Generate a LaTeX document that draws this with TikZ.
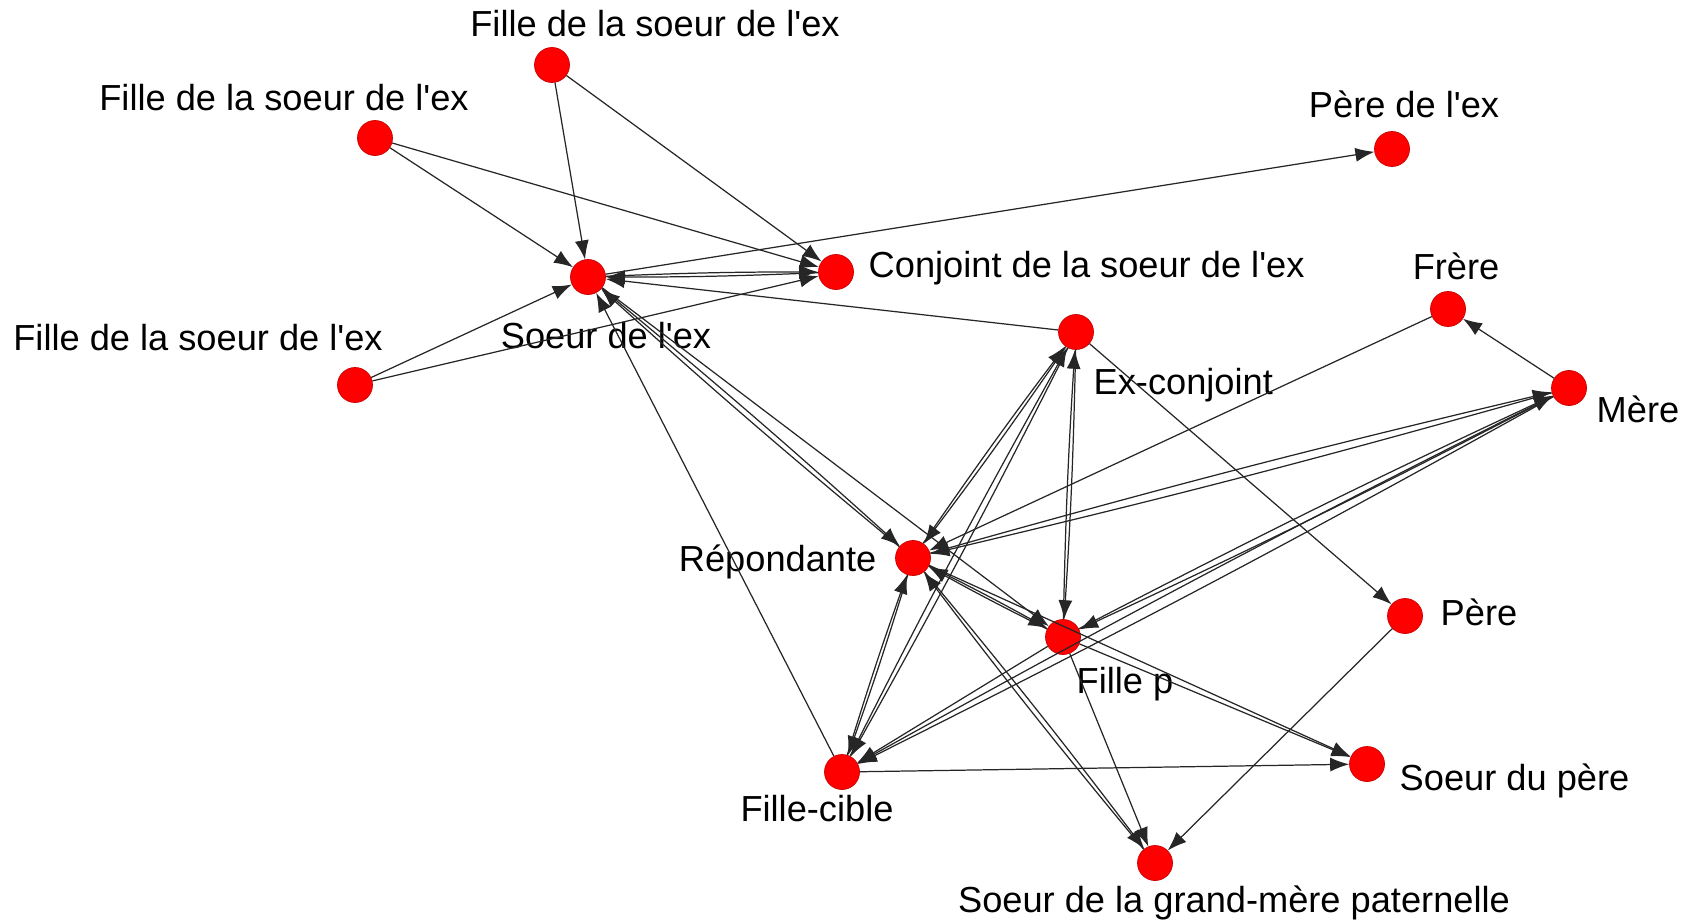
\documentclass[tikz,border=0pt]{standalone}
\usepackage{fontspec}
\setmainfont{Liberation Sans}[Ligatures=TeXOff]
\usetikzlibrary{arrows.meta}

\begin{document}
\begin{tikzpicture}[
    x=0.01cm, y=-0.01cm,
    nodePers/.style={circle, minimum size=0.35cm, inner sep=0pt, fill=red, draw=red!80!black, line width=0.2pt},
    labelTxt/.style={inner sep=0pt, font=\fontsize{10.3}{12}\selectfont, text height=1.45ex, text depth=.3ex},
    linkArrow/.style={-{Latex[length=5.4pt,width=4pt]}, line width=0.35pt, draw=black!85},
    linkPair/.style={linkArrow, bend left=1.2},
  ]
  \useasboundingbox (0,0) rectangle (1692,921);

  % persons
  \node[nodePers] (filleA) at (552, 65) {};
  \node[nodePers] (filleB) at (375, 138) {};
  \node[nodePers] (filleC) at (355, 385) {};
  \node[nodePers] (soeurEx) at (588, 277) {};
  \node[nodePers] (conjSoeur) at (836, 272) {};
  \node[nodePers] (pereEx) at (1392, 149) {};
  \node[nodePers] (frere) at (1448, 309) {};
  \node[nodePers] (exConj) at (1076, 332) {};
  \node[nodePers] (mere) at (1569, 388) {};
  \node[nodePers] (repond) at (913, 558) {};
  \node[nodePers] (pere) at (1405, 616) {};
  \node[nodePers] (filleP) at (1063, 637) {};
  \node[nodePers] (soeurPere) at (1367, 764) {};
  \node[nodePers] (filleCible) at (842, 772) {};
  \node[nodePers] (soeurGM) at (1155, 863) {};

  % names
  \node[labelTxt] (filleAL) at (655, 26) {Fille de la soeur de l'ex};
  \node[labelTxt] (filleBL) at (284, 100) {Fille de la soeur de l'ex};
  \node[labelTxt] (filleCL) at (198, 340) {Fille de la soeur de l'ex};
  \node[labelTxt] (soeurExL) at (606, 338) {Soeur de l'ex};
  \node[labelTxt, anchor=west] (conjSoeurL) at (868, 267) {Conjoint de la soeur de l'ex};
  \node[labelTxt] (pereExL) at (1404, 107) {Père de l'ex};
  \node[labelTxt] (frereL) at (1456, 269) {Frère};
  \node[labelTxt, anchor=west] (exConjL) at (1093, 384) {Ex-conjoint};
  \node[labelTxt, anchor=west] (mereL) at (1596, 412) {Mère};
  \node[labelTxt, anchor=east] (repondL) at (877, 561) {Répondante};
  \node[labelTxt, anchor=west] (pereL) at (1440, 615) {Père};
  \node[labelTxt, anchor=west] (fillePL) at (1076, 683) {Fille p};
  \node[labelTxt, anchor=west] (soeurPereL) at (1399, 780) {Soeur du père};
  \node[labelTxt] (filleCibleL) at (817, 811) {Fille-cible};
  \node[labelTxt] (soeurGML) at (1234, 902) {Soeur de la grand-mère paternelle};

  % links
  \draw[linkArrow] (filleA) -- (soeurEx);
  \draw[linkArrow] (filleA) -- (conjSoeur);
  \draw[linkArrow] (filleB) -- (soeurEx);
  \draw[linkArrow] (filleB) -- (conjSoeur);
  \draw[linkArrow] (filleC) -- (soeurEx);
  \draw[linkArrow] (filleC) -- (conjSoeur);
  \draw[linkPair] (soeurEx) to (conjSoeur);
  \draw[linkPair] (conjSoeur) to (soeurEx);
  \draw[linkArrow] (soeurEx) -- (pereEx);
  \draw[linkArrow] (exConj) -- (soeurEx);
  \draw[linkPair] (soeurEx) to (repond);
  \draw[linkPair] (repond) to (soeurEx);
  \draw[linkArrow] (soeurEx) -- (filleP);
  \draw[linkArrow] (filleCible) -- (soeurEx);
  \draw[linkArrow] (exConj) -- (pere);
  \draw[linkPair] (exConj) to (filleP);
  \draw[linkPair] (filleP) to (exConj);
  \draw[linkPair] (exConj) to (repond);
  \draw[linkPair] (repond) to (exConj);
  \draw[linkPair] (exConj) to (filleCible);
  \draw[linkPair] (filleCible) to (exConj);
  \draw[linkArrow] (mere) -- (frere);
  \draw[linkArrow] (frere) -- (repond);
  \draw[linkPair] (mere) to (repond);
  \draw[linkPair] (repond) to (mere);
  \draw[linkPair] (mere) to (filleP);
  \draw[linkPair] (filleP) to (mere);
  \draw[linkPair] (mere) to (filleCible);
  \draw[linkPair] (filleCible) to (mere);
  \draw[linkPair] (repond) to (filleP);
  \draw[linkPair] (filleP) to (repond);
  \draw[linkPair] (repond) to (filleCible);
  \draw[linkPair] (filleCible) to (repond);
  \draw[linkArrow] (repond) -- (soeurPere);
  \draw[linkArrow] (filleP) -- (soeurPere);
  \draw[linkArrow] (filleP) -- (filleCible);
  \draw[linkArrow] (filleCible) -- (soeurPere);
  \draw[linkPair] (repond) to (soeurGM);
  \draw[linkPair] (soeurGM) to (repond);
  \draw[linkArrow] (filleP) -- (soeurGM);
  \draw[linkArrow] (pere) -- (soeurGM);
\end{tikzpicture}
\end{document}
